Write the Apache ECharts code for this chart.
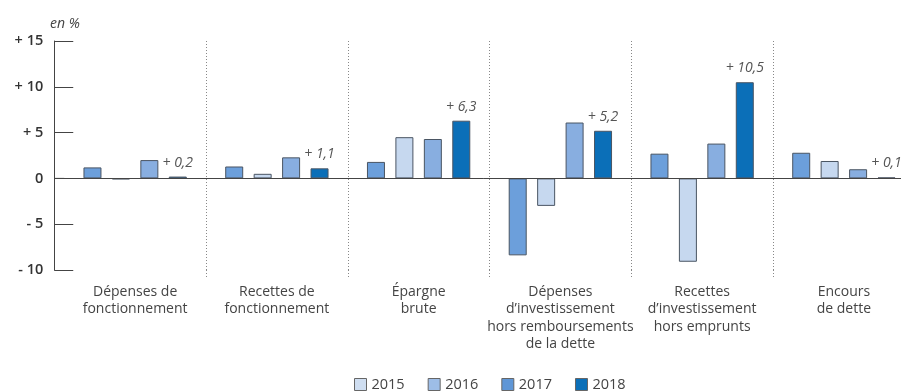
<!DOCTYPE html>
<html>
<head>
<meta charset="utf-8">
<script src="https://cdn.jsdelivr.net/npm/echarts@6/dist/echarts.min.js"></script>
<style>
  html, body { margin: 0; padding: 0; background: #fff; }
  #chart { width: 901px; height: 391px; }
</style>
</head>
<body>
<div id="chart"></div>
<script>
// Budget indicators, year-on-year change (in %)
const categories = [
  'Dépenses de\nfonctionnement',
  'Recettes de\nfonctionnement',
  'Épargne\nbrute',
  'Dépenses\nd’investissement\nhors remboursements\nde la dette',
  'Recettes\nd’investissement\nhors emprunts',
  'Encours\nde dette'
];
const years = ['2015', '2016', '2017', '2018'];
const v2015 = [1.2, 1.3, 1.8, -8.4, 2.7, 2.8];
const v2016 = [-0.1, 0.5, 4.5, -3.0, -9.1, 1.9];
const v2017 = [2.0, 2.3, 4.3, 6.1, 3.8, 1.0];
const v2018 = [0.2, 1.1, 6.3, 5.2, 10.5, 0.1];
const yTicks = [-10, -5, 0, 5, 10, 15];

const barColors = ['#6c9fdb', '#c6d8ef', '#88aee0', '#0b6fb8'];
const legendColors = ['#cfdef1', '#9dbde7', '#5f96d6', '#0b6fb8'];
const seriesValues = [v2015, v2016, v2017, v2018];

const gridLeft = 64.25;
const gridWidth = 850.5;
const yAxisOffset = 10;
const font = '"Open Sans", "Liberation Sans", sans-serif';

const fmtSigned = v => {
  const s = Math.abs(v).toString().replace('.', ',');
  if (v > 0) return '+ ' + s;
  if (v < 0) return '- ' + s;
  return '0';
};

const chart = echarts.init(document.getElementById('chart'), null, { renderer: 'canvas' });

const series = years.map((y, i) => {
  const s = {
    name: y,
    type: 'bar',
    data: seriesValues[i],
    barWidth: 18,
    barGap: '58%',
    itemStyle: { color: barColors[i], borderColor: '#4a5563', borderWidth: 1 },
    emphasis: { disabled: true },
    animation: false
  };
  if (i === 3) {
    s.label = {
      show: true,
      position: 'top',
      distance: 7,
      formatter: p => fmtSigned(p.value),
      fontFamily: font,
      fontStyle: 'italic',
      fontSize: 14,
      color: '#555'
    };
    // zero baseline across the plot
    s.markLine = {
      silent: true,
      symbol: 'none',
      label: { show: false },
      lineStyle: { color: '#444', width: 1, type: 'solid' },
      data: [{ yAxis: 0 }],
      animation: false
    };
  }
  return s;
});

chart.setOption({
  animation: false,
  textStyle: { fontFamily: font },
  title: {
    text: 'en %',
    left: 45,
    top: 12,
    textStyle: { fontFamily: font, fontStyle: 'italic', fontWeight: 'normal', fontSize: 14, color: '#444' }
  },
  legend: {
    data: years.map((y, i) => ({ name: y, itemStyle: { color: legendColors[i], borderColor: '#666', borderWidth: 1 } })),
    left: 349,
    top: 372,
    icon: 'rect',
    itemWidth: 12,
    itemHeight: 12,
    itemGap: 23,
    textStyle: { fontFamily: font, fontSize: 14.5, color: '#444' },
    selectedMode: false
  },
  grid: {
    left: gridLeft, width: gridWidth, top: 41, height: 229,
    containLabel: false, outerBoundsMode: 'none'
  },
  xAxis: {
    type: 'category',
    data: categories,
    position: 'bottom',
    axisLine: { show: false, onZero: false },
    axisTick: {
      show: true,
      length: 7,
      interval: (idx) => idx > 0,
      lineStyle: { color: '#888', width: 1, type: [1, 2] }
    },
    splitLine: {
      show: true,
      interval: (idx) => idx > 0,
      lineStyle: { color: '#888', width: 1, type: [1, 2] }
    },
    axisLabel: {
      margin: 13,
      fontFamily: font,
      fontSize: 14,
      lineHeight: 17.5,
      color: '#444',
      interval: 0
    }
  },
  yAxis: {
    type: 'value',
    min: yTicks[0],
    max: yTicks[yTicks.length - 1],
    interval: 5,
    offset: yAxisOffset,
    axisLine: { show: true, lineStyle: { color: '#444', width: 1 } },
    axisTick: { show: true, inside: true, length: 19, lineStyle: { color: '#444', width: 1 } },
    splitLine: { show: false },
    axisLabel: {
      margin: 11,
      fontFamily: font,
      fontSize: 14.5,
      fontWeight: 600,
      color: '#333',
      formatter: v => fmtSigned(v)
    }
  },
  series: series
});

// short stretch of the zero line between the y axis and the first category
const y0 = chart.convertToPixel({ yAxisIndex: 0 }, 0);
chart.setOption({
  graphic: [{
    type: 'line',
    silent: true,
    shape: { x1: gridLeft - yAxisOffset, y1: y0, x2: gridLeft, y2: y0 },
    style: { stroke: '#444', lineWidth: 1 }
  }]
});
</script>
</body>
</html>
